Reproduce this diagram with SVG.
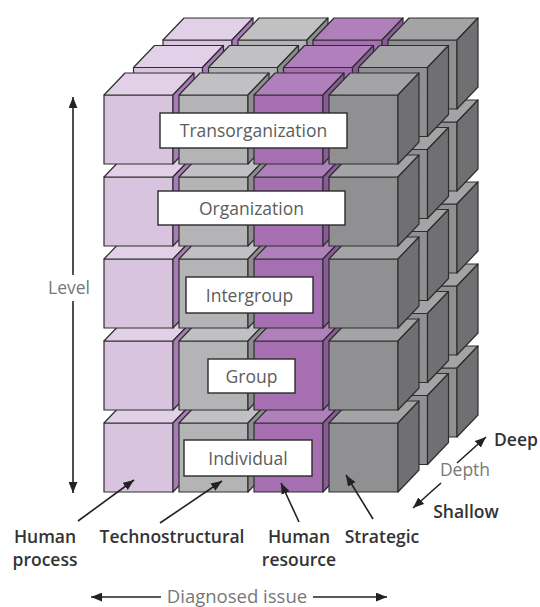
<svg xmlns="http://www.w3.org/2000/svg" xmlns:xlink="http://www.w3.org/1999/xlink" width="540" height="607" viewBox="0 0 540 607">
<style>
.ol{stroke:#2e2e2e;stroke-width:1.2;stroke-linejoin:round}
.aF{fill:#d9c4e0}.aT{fill:#e1d0e7}.aS{fill:#a97cb8}
.bF{fill:#b4b4b6}.bT{fill:#c1c1c3}.bS{fill:#8e8e91}
.cF{fill:#a56fb2}.cT{fill:#b080bd}.cS{fill:#8b5a99}
.dF{fill:#909093}.dT{fill:#a4a4a6}.dS{fill:#707073}
.box{fill:#fff;stroke:#2a2a2a;stroke-width:1.4}
.lbl{font-family:"Open Sans","Noto Sans",sans-serif;font-size:17.5px;fill:#5c5c5c;text-anchor:middle}
.cap{font-family:"Open Sans","Noto Sans",sans-serif;font-size:17.5px;font-weight:600;fill:#333;text-anchor:middle}
.axis{font-family:"Open Sans","Noto Sans",sans-serif;font-size:17.5px;fill:#777;text-anchor:middle}
.arr{stroke:#222;stroke-width:1.6;fill:none;marker-end:url(#ah)}
</style>
<defs>
<marker id="ah" viewBox="0 0 10 8" refX="10" refY="4" markerWidth="11" markerHeight="9" markerUnits="userSpaceOnUse" orient="auto">
<path d="M0,0 L10,4 L0,8 z" fill="#222"/>
</marker>
<g id="cA" class="ol"><rect class="aF" x="0" y="0" width="69" height="69"/><polygon class="aT" points="0,0 21,-22 90,-22 69,0"/><polygon class="aS" points="69,0 90,-22 90,47 69,69"/></g>
<g id="cB" class="ol"><rect class="bF" x="0" y="0" width="69" height="69"/><polygon class="bT" points="0,0 21,-22 90,-22 69,0"/><polygon class="bS" points="69,0 90,-22 90,47 69,69"/></g>
<g id="cC" class="ol"><rect class="cF" x="0" y="0" width="69" height="69"/><polygon class="cT" points="0,0 21,-22 90,-22 69,0"/><polygon class="cS" points="69,0 90,-22 90,47 69,69"/></g>
<g id="cD" class="ol"><rect class="dF" x="0" y="0" width="69" height="69"/><polygon class="dT" points="0,0 21,-22 90,-22 69,0"/><polygon class="dS" points="69,0 90,-22 90,47 69,69"/></g>
</defs>
<rect width="540" height="607" fill="#fff"/>

<g id="layer-back">
<use href="#cA" x="163" y="368"/><use href="#cB" x="238" y="368"/><use href="#cC" x="313" y="368"/><use href="#cD" x="388" y="368"/>
<use href="#cA" x="163" y="286"/><use href="#cB" x="238" y="286"/><use href="#cC" x="313" y="286"/><use href="#cD" x="388" y="286"/>
<use href="#cA" x="163" y="204"/><use href="#cB" x="238" y="204"/><use href="#cC" x="313" y="204"/><use href="#cD" x="388" y="204"/>
<use href="#cA" x="163" y="122"/><use href="#cB" x="238" y="122"/><use href="#cC" x="313" y="122"/><use href="#cD" x="388" y="122"/>
<use href="#cA" x="163" y="40"/><use href="#cB" x="238" y="40"/><use href="#cC" x="313" y="40"/><use href="#cD" x="388" y="40"/>
</g>
<g id="layer-middle">
<use href="#cA" x="133.5" y="395.5"/><use href="#cB" x="208.5" y="395.5"/><use href="#cC" x="283.5" y="395.5"/><use href="#cD" x="358.5" y="395.5"/>
<use href="#cA" x="133.5" y="313.5"/><use href="#cB" x="208.5" y="313.5"/><use href="#cC" x="283.5" y="313.5"/><use href="#cD" x="358.5" y="313.5"/>
<use href="#cA" x="133.5" y="231.5"/><use href="#cB" x="208.5" y="231.5"/><use href="#cC" x="283.5" y="231.5"/><use href="#cD" x="358.5" y="231.5"/>
<use href="#cA" x="133.5" y="149.5"/><use href="#cB" x="208.5" y="149.5"/><use href="#cC" x="283.5" y="149.5"/><use href="#cD" x="358.5" y="149.5"/>
<use href="#cA" x="133.5" y="67.5"/><use href="#cB" x="208.5" y="67.5"/><use href="#cC" x="283.5" y="67.5"/><use href="#cD" x="358.5" y="67.5"/>
</g>
<g id="layer-front">
<use href="#cA" x="104" y="423"/><use href="#cB" x="179" y="423"/><use href="#cC" x="254" y="423"/><use href="#cD" x="329" y="423"/>
<use href="#cA" x="104" y="341"/><use href="#cB" x="179" y="341"/><use href="#cC" x="254" y="341"/><use href="#cD" x="329" y="341"/>
<use href="#cA" x="104" y="259"/><use href="#cB" x="179" y="259"/><use href="#cC" x="254" y="259"/><use href="#cD" x="329" y="259"/>
<use href="#cA" x="104" y="177"/><use href="#cB" x="179" y="177"/><use href="#cC" x="254" y="177"/><use href="#cD" x="329" y="177"/>
<use href="#cA" x="104" y="95"/><use href="#cB" x="179" y="95"/><use href="#cC" x="254" y="95"/><use href="#cD" x="329" y="95"/>
</g>

<g id="transorganization"><rect class="box" x="160" y="113" width="187" height="35"/><text class="lbl" x="253.5" y="137">Transorganization</text></g>
<g id="organization"><rect class="box" x="158" y="191" width="187" height="34"/><text class="lbl" x="251.5" y="214.5">Organization</text></g>
<g id="intergroup"><rect class="box" x="186" y="277" width="127" height="36"/><text class="lbl" x="249.5" y="301.5">Intergroup</text></g>
<g id="group"><rect class="box" x="208" y="359" width="87" height="34"/><text class="lbl" x="251.5" y="382.5">Group</text></g>
<g id="individual"><rect class="box" x="184" y="440" width="128" height="36"/><text class="lbl" x="248" y="464.5">Individual</text></g>

<g id="connectors">
<line class="arr" x1="73" y1="275" x2="73" y2="97"/>
<line class="arr" x1="73" y1="301" x2="73" y2="493"/>
<line class="arr" x1="161" y1="597" x2="91" y2="597"/>
<line class="arr" x1="313" y1="597" x2="387" y2="597"/>
<line class="arr" x1="457" y1="463" x2="486" y2="437"/>
<line class="arr" x1="441" y1="483" x2="413" y2="508"/>
<line class="arr" x1="78" y1="521" x2="134" y2="480"/>
<line class="arr" x1="160" y1="523" x2="222" y2="481"/>
<line class="arr" x1="299" y1="522" x2="281" y2="483"/>
<line class="arr" x1="373" y1="519" x2="346" y2="475"/>
</g>

<g id="axis-labels">
<text class="axis" x="69" y="294">Level</text>
<text class="axis" x="237" y="603" style="font-size:18.5px">Diagnosed issue</text>
<text class="axis" x="465" y="476">Depth</text>
<text class="cap" x="516" y="446">Deep</text>
<text class="cap" x="466" y="518">Shallow</text>
</g>
<g id="issue-labels">
<text class="cap" x="45" y="543">Human</text>
<text class="cap" x="45" y="566">process</text>
<text class="cap" x="172" y="543">Technostructural</text>
<text class="cap" x="299" y="543">Human</text>
<text class="cap" x="299" y="566">resource</text>
<text class="cap" x="382" y="543">Strategic</text>
</g>
</svg>
